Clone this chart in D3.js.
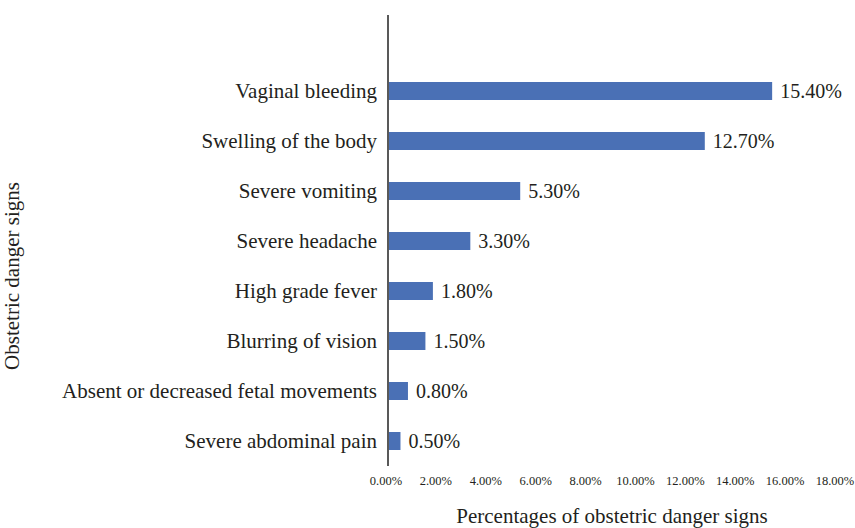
<!DOCTYPE html>
<html>
<head>
<meta charset="utf-8">
<script src="https://cdn.jsdelivr.net/npm/d3@7"></script>
<style>
  body { margin: 0; background: #fff; }
</style>
</head>
<body>
<div id="chart"></div>
<script>
// Obstetric danger signs, top to bottom as in the figure
const categories = [
  "Vaginal bleeding",
  "Swelling of the body",
  "Severe vomiting",
  "Severe headache",
  "High grade fever",
  "Blurring of vision",
  "Absent or decreased fetal movements",
  "Severe abdominal pain"
];
const percentages = [15.4, 12.7, 5.3, 3.3, 1.8, 1.5, 0.8, 0.5];
const tickValues = [0, 2, 4, 6, 8, 10, 12, 14, 16, 18];

const width = 855;
const height = 528;
const plot = { left: 388, right: 837, top: 15, bandTop: 66, bottom: 466 };
const serif = '"Liberation Serif", "DejaVu Serif", serif';
const ink = "#231f20";

const data = categories.map((name, i) => ({ name, value: percentages[i] }));

const svg = d3.select("#chart")
  .append("svg")
  .attr("width", width)
  .attr("height", height)
  .style("font-family", serif);

const x = d3.scaleLinear()
  .domain([0, 18])
  .range([plot.left, plot.right]);

const y = d3.scaleBand()
  .domain(categories)
  .range([plot.bandTop, plot.bottom])
  .paddingInner(0.64)
  .paddingOuter(0.32);

// bars
svg.append("g")
  .selectAll("rect")
  .data(data)
  .join("rect")
  .attr("x", x(0))
  .attr("y", (d) => y(d.name))
  .attr("width", (d) => x(d.value) - x(0))
  .attr("height", y.bandwidth())
  .attr("fill", "#4a70b5");

// value labels
svg.append("g")
  .selectAll("text")
  .data(data)
  .join("text")
  .attr("x", (d) => x(d.value) + 8)
  .attr("y", (d) => y(d.name) + y.bandwidth() / 2)
  .attr("dy", "0.35em")
  .attr("fill", ink)
  .style("font-family", serif)
  .style("font-size", "20px")
  .text((d) => d.value.toFixed(2) + "%");

// category axis
const yAxis = svg.append("g")
  .attr("transform", `translate(${plot.left},0)`)
  .call(d3.axisLeft(y).tickSize(0).tickPadding(11));
yAxis.attr("font-family", null);
yAxis.select(".domain").remove();
yAxis.selectAll("text")
  .style("font-family", serif)
  .style("font-size", "21px")
  .attr("fill", ink);

svg.append("line")
  .attr("x1", plot.left)
  .attr("x2", plot.left)
  .attr("y1", plot.top)
  .attr("y2", plot.bottom)
  .attr("stroke", "#595959")
  .attr("stroke-width", 2);

// value axis, labels only
const xAxis = svg.append("g")
  .attr("transform", `translate(0,${plot.bottom})`)
  .call(d3.axisBottom(x)
    .tickValues(tickValues)
    .tickSize(0)
    .tickPadding(10)
    .tickFormat((d) => d.toFixed(2) + "%"));
xAxis.attr("font-family", null);
xAxis.select(".domain").remove();
xAxis.selectAll("text")
  .attr("dx", -2.5)
  .style("font-family", serif)
  .style("font-size", "12.5px")
  .attr("fill", ink);

// axis titles
svg.append("text")
  .attr("x", 612)
  .attr("y", 523)
  .attr("text-anchor", "middle")
  .attr("fill", ink)
  .style("font-family", serif)
  .style("font-size", "21px")
  .text("Percentages of obstetric danger signs");

svg.append("text")
  .attr("transform", "translate(19,276) rotate(-90)")
  .attr("text-anchor", "middle")
  .attr("fill", ink)
  .style("font-family", serif)
  .style("font-size", "21px")
  .text("Obstetric danger signs");
</script>
</body>
</html>
